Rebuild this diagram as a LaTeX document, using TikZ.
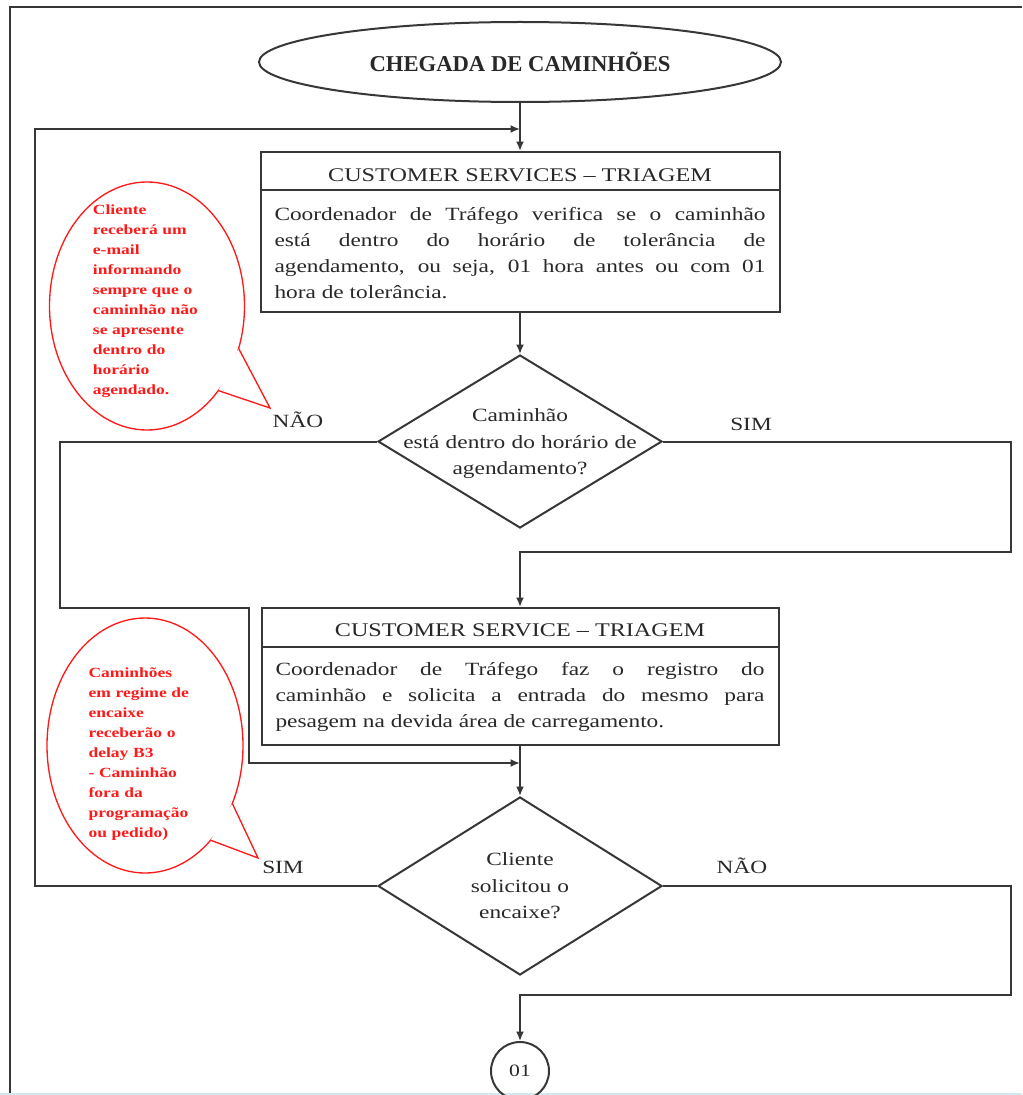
\documentclass[tikz,border=0pt]{standalone}
\usepackage{fontspec}
\setmainfont[FakeStretch=1.25]{Liberation Serif}
\newfontfamily\plainserif{Liberation Serif}
\usetikzlibrary{shapes.geometric,arrows.meta}
\definecolor{ink}{RGB}{40,40,40}
\definecolor{edge}{RGB}{55,55,55}
\definecolor{callred}{RGB}{255,25,25}
\definecolor{bluerule}{RGB}{205,235,240}
\begin{document}
\begin{tikzpicture}[x=0.75pt,y=-0.75pt,
  conn/.style={draw=edge, line width=1.5pt},
  arrowconn/.style={conn, -{Latex[length=7pt,width=6pt]}},
  boxstyle/.style={draw=edge, line width=1.5pt, rectangle, inner sep=0pt},
  decision/.style={draw=edge, line width=1.5pt, diamond, inner sep=0pt},
  lbl/.style={text=ink, inner sep=0pt, font=\fontsize{14}{16}\selectfont},
  headtext/.style={text=ink, inner sep=0pt, font=\fontsize{14.5}{17}\selectfont},
  bodytext/.style={text=ink, inner sep=0pt, align=justify, font=\fontsize{14}{19.5}\selectfont},
  qtext/.style={text=ink, inner sep=0pt, align=center, text width=200pt, font=\fontsize{14}{19.9}\selectfont},
  calltext/.style={text=callred, inner sep=0pt, text width=115pt, anchor=north west, font=\bfseries\fontsize{10.5}{15}\selectfont},
  bubble/.style={draw=callred, line width=1pt}]
\useasboundingbox (0,0) rectangle (1022,1095);
\clip (0,0) rectangle (1022,1095);

% page frame
\draw[conn] (10,1095) -- (10,7) -- (1022,7);
\draw[bluerule, line width=1.5pt] (0,1094) -- (1022,1094);

% start
\node[draw=edge, line width=1.5pt, ellipse, minimum width=391.5pt, minimum height=60pt, inner sep=0pt, text=ink,
      font=\plainserif\bfseries\fontsize{17}{20}\selectfont] (start) at (520,62) {CHEGADA DE CAMINHÕES};

% box 1
\node[boxstyle, minimum width=389.25pt, minimum height=120pt] (box1) at (520,232) {};
\draw[conn, line width=1.2pt] ([yshift=-29.25pt]box1.north west) -- ([yshift=-29.25pt]box1.north east);
\node[headtext, anchor=base] (h1) at (520,181.7) {CUSTOMER SERVICES – TRIAGEM};
\node[bodytext, text width=368.25pt] (b1) at (520,253) {\noindent Coordenador de Tráfego verifica se o caminhão\linebreak está dentro do horário de tolerância de\linebreak agendamento, ou seja, 01 hora antes ou com 01\linebreak hora de tolerância.};

% decision 1
\node[decision, minimum width=213pt, minimum height=129.75pt] (d1) at (520,441.5) {};
\node[qtext] (q1) at (520,444) {Caminhão\\ está dentro do horário de\\ agendamento?};

% box 2
\node[boxstyle, minimum width=387.75pt, minimum height=102.75pt] (box2) at (520,676.5) {};
\draw[conn, line width=1.2pt] ([yshift=-30pt]box2.north west) -- ([yshift=-30pt]box2.north east);
\node[headtext, anchor=base] (h2) at (520,636.7) {CUSTOMER SERVICE – TRIAGEM};
\node[bodytext, text width=366.75pt] (b2) at (520,696.5) {\noindent Coordenador de Tráfego faz o registro do\linebreak caminhão e solicita a entrada do mesmo para\linebreak pesagem na devida área de carregamento.};

% decision 2
\node[decision, minimum width=213pt, minimum height=133.5pt] (d2) at (520,886) {};
\node[qtext] (q2) at (520,886) {Cliente\\ solicitou o\\ encaixe?};

% connector circle
\node[draw=edge, line width=1.5pt, circle, minimum size=43.5pt, inner sep=0pt, text=ink,
      font=\fontsize{13}{15}\selectfont] (c01) at (520,1071) {01};

% routing points
\coordinate (j1) at (520,129);
\coordinate (lp1) at (35,129);
\coordinate (r1) at (1011,552);
\coordinate (l1) at (60,608);
\coordinate (l2) at (249,763);
\coordinate (j2) at (520,763);
\coordinate (r2) at (1011,995);

% connectors
\draw[arrowconn] (start.south) -- (box1.north);
\draw[arrowconn] (d2.west) -| (lp1) -- (j1);
\draw[arrowconn] (box1.south) -- (d1.north);
\draw[arrowconn] (d1.east) -| (r1) -| (box2.north);
\draw[arrowconn] (d1.west) -| (l1) -| (l2) -- (j2);
\draw[arrowconn] (box2.south) -- (d2.north);
\draw[arrowconn] (d2.east) -| (r2) -| (c01.north);

% labels
\node[lbl, anchor=base] (no1) at (298,427) {NÃO};
\node[lbl, anchor=base] (yes1) at (751,430) {SIM};
\node[lbl, anchor=base] (yes2) at (283,873) {SIM};
\node[lbl, anchor=base] (no2) at (742,873) {NÃO};

% callout 1
\draw[bubble] (147,306) ellipse [x radius=97.5, y radius=124];
\fill[white] (238.6,348.4) -- (270,408) -- (218.3,390.6) -- cycle;
\draw[bubble] (238.6,348.4) -- (270,408) -- (218.3,390.6);
\node[calltext] (n1) at (92.7,205) {\raggedright Cliente\\ receberá um\\ e-mail\\ informando\\ sempre que o\\ caminhão não\\ se apresente\\ dentro do\\ horário\\ agendado.};

% callout 2
\draw[bubble] (145,745.5) ellipse [x radius=98, y radius=127.5];
\fill[white] (232.3,803.4) -- (258,858) -- (210.6,840.2) -- cycle;
\draw[bubble] (232.3,803.4) -- (258,858) -- (210.6,840.2);
\node[calltext] (n2) at (88.3,667) {\raggedright Caminhões\\ em regime de\\ encaixe\\ receberão o\\ delay B3\\ - Caminhão\\ fora da\\ programação\\ ou pedido)};
\end{tikzpicture}
\end{document}
